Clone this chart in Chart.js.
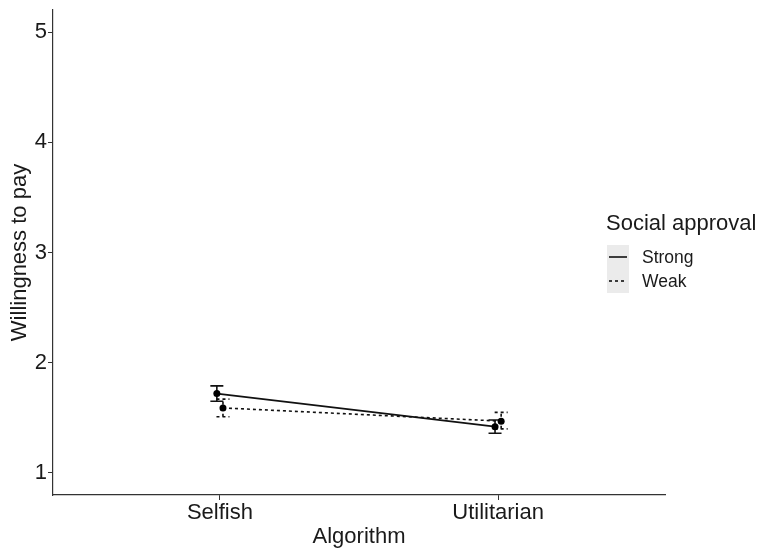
<!DOCTYPE html>
<html>
<head>
<meta charset="utf-8">
<script src="https://cdn.jsdelivr.net/npm/chart.js@4.4.1/dist/chart.umd.min.js"></script>
<style>
  html, body { margin: 0; padding: 0; background: #fff; }
  #wrap { width: 759px; height: 550px; }
</style>
</head>
<body>
<div id="wrap"><canvas id="chart" width="759" height="550"></canvas></div>
<script>
// Data
const categories = ['Selfish', 'Utilitarian'];
const yTicks = [1, 2, 3, 4, 5];
const strongMean = [1.72, 1.42];
const strongLow = [1.65, 1.36];
const strongHigh = [1.79, 1.48];
const weakMean = [1.59, 1.47];
const weakLow = [1.51, 1.40];
const weakHigh = [1.67, 1.55];

const FONT = '"Liberation Sans", Arial, sans-serif';
const INK = '#1a1a1a';
const DODGE = 0.011;

function toPoints(values, shift) {
  return values.map((v, i) => ({ x: i + 1 + shift, y: v }));
}

// Error bars drawn through the chart scales
const errorBars = {
  id: 'errorBars',
  beforeDatasetsDraw(chart) {
    const { ctx, scales: { x, y } } = chart;
    chart.data.datasets.forEach((ds) => {
      ctx.save();
      ctx.strokeStyle = ds.borderColor;
      ctx.lineWidth = ds.borderWidth;
      ctx.setLineDash(ds.borderDash || []);
      ds.data.forEach((pt, i) => {
        const px = x.getPixelForValue(pt.x);
        const lo = y.getPixelForValue(ds.low[i]);
        const hi = y.getPixelForValue(ds.high[i]);
        const half = 6.5;
        ctx.beginPath();
        ctx.moveTo(px, lo); ctx.lineTo(px, hi);
        ctx.moveTo(px - half, lo); ctx.lineTo(px + half, lo);
        ctx.moveTo(px - half, hi); ctx.lineTo(px + half, hi);
        ctx.stroke();
      });
      ctx.restore();
    });
  }
};

// ggplot-style legend on the right
const sideLegend = {
  id: 'sideLegend',
  afterDraw(chart) {
    const { ctx } = chart;
    ctx.save();
    ctx.fillStyle = INK;
    ctx.font = '22px ' + FONT;
    ctx.textBaseline = 'middle';
    ctx.textAlign = 'left';
    ctx.fillText('Social approval', 606, 224);

    ctx.fillStyle = '#ebebeb';
    ctx.fillRect(607, 245, 22, 48);

    chart.data.datasets.forEach((ds, i) => {
      const cy = 257 + i * 24;
      ctx.strokeStyle = ds.borderColor;
      ctx.lineWidth = ds.borderWidth;
      ctx.setLineDash(ds.borderDash || []);
      ctx.beginPath();
      ctx.moveTo(609, cy); ctx.lineTo(627, cy);
      ctx.stroke();
      ctx.setLineDash([]);
      ctx.fillStyle = INK;
      ctx.font = '17.5px ' + FONT;
      ctx.fillText(ds.label, 642, cy + 1);
    });
    ctx.restore();
  }
};

new Chart(document.getElementById('chart'), {
  type: 'line',
  data: {
    datasets: [
      {
        label: 'Strong',
        data: toPoints(strongMean, -DODGE),
        low: strongLow,
        high: strongHigh,
        borderColor: '#111',
        backgroundColor: '#000',
        borderWidth: 1.6,
        pointRadius: 3.5,
        pointBorderWidth: 0,
        tension: 0
      },
      {
        label: 'Weak',
        data: toPoints(weakMean, DODGE),
        low: weakLow,
        high: weakHigh,
        borderColor: '#111',
        backgroundColor: '#000',
        borderWidth: 1.6,
        borderDash: [3, 3],
        pointRadius: 3.5,
        pointBorderWidth: 0,
        tension: 0
      }
    ]
  },
  options: {
    responsive: false,
    animation: false,
    layout: { padding: { top: 10, right: 94, left: 0, bottom: 0 } },
    plugins: {
      legend: { display: false },
      tooltip: { enabled: false }
    },
    scales: {
      x: {
        type: 'linear',
        min: 0.4,
        max: 2.6,
        afterBuildTicks: (axis) => { axis.ticks = categories.map((c, i) => ({ value: i + 1 })); },
        afterFit: (axis) => { axis.height = 55; },
        ticks: {
          callback: (v) => categories[v - 1],
          color: INK,
          font: { family: FONT, size: 22 },
          padding: 0,
          maxRotation: 0
        },
        grid: { drawOnChartArea: false, tickLength: 5, color: '#333', tickWidth: 1 },
        border: { color: '#333', width: 1.2 },
        title: {
          display: true,
          text: 'Algorithm',
          color: INK,
          font: { family: FONT, size: 22 },
          padding: { top: 0, bottom: 0 }
        }
      },
      y: {
        type: 'linear',
        min: 0.8,
        max: 5.2,
        afterBuildTicks: (axis) => { axis.ticks = yTicks.map((v) => ({ value: v })); },
        afterFit: (axis) => {
          axis.width = 53;
          axis.paddingTop = 0;
          axis.paddingBottom = 0;
        },
        ticks: {
          color: INK,
          font: { family: FONT, size: 22 },
          padding: 1
        },
        grid: { drawOnChartArea: false, tickLength: 5, color: '#333', tickWidth: 1 },
        border: { color: '#333', width: 1.2 },
        title: {
          display: true,
          text: 'Willingness to pay',
          color: INK,
          font: { family: FONT, size: 22 },
          padding: { top: 7, bottom: 0 }
        }
      }
    }
  },
  plugins: [errorBars, sideLegend]
});
</script>
</body>
</html>
